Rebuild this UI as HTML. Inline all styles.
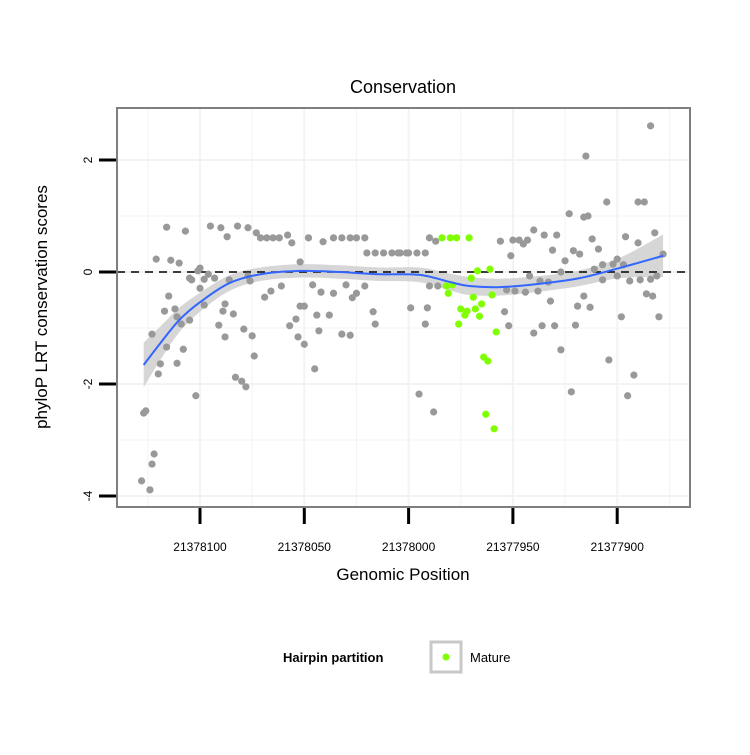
<!DOCTYPE html>
<html><head><meta charset="utf-8"><style>
body{margin:0;background:#fff;}
svg text{font-family:"Liberation Sans",sans-serif;}
</style></head><body>
<svg id="chart" width="750" height="750" xmlns="http://www.w3.org/2000/svg">
<rect x="0" y="0" width="750" height="750" fill="#fff"/>
<text x="403" y="93" font-size="18" text-anchor="middle">Conservation</text>
<g id="grid"></g>
<g id="band"></g>
<line x1="117" x2="690" y1="272" y2="272" stroke="#000" stroke-width="1.6" stroke-dasharray="8,6"/>
<g id="pts"></g>
<g id="fit"></g>
<rect x="117" y="108" width="573" height="399" fill="none" stroke="#7f7f7f" stroke-width="2"/>
<g id="axes"></g>
<text x="403" y="580" font-size="17" text-anchor="middle">Genomic Position</text>
<text x="0" y="0" font-size="17" text-anchor="middle" transform="translate(47,307) rotate(-90)">phyloP LRT conservation scores</text>
<g>
<text x="283" y="662" font-size="13" font-weight="bold">Hairpin partition</text>
<rect x="431" y="642" width="30" height="30" fill="#fff" stroke="#c8c8c8" stroke-width="3"/>
<circle cx="446" cy="657" r="3.5" fill="#7fff00"/>
<text x="470" y="662" font-size="13">Mature</text>
</g>
</svg>
<script>
const xTicks=[21378100,21378050,21378000,21377950,21377900];
const yTicks=[-4,-2,0,2];
const grayPos=[21378116,21378107,21378095,21378090,21378087,21378082,21378077,21378073,21378071,21378068,21378065,21378062,21378058,21378056,21378048,21378041,21378036,21378032,21378028,21378025,21378021,21378020,21378016,21378012,21378008,21378005,21378001,21378004,21378000,21377996,21377992,21378121,21378114,21378110,21378052,21378101,21378100,21378105,21378104,21378098,21378096,21378093,21378086,21378077,21378076,21378100,21378115,21378069,21378066,21378061,21378046,21378042,21378036,21378030,21378025,21378021,21378027,21378098,21378088,21378089,21378117,21378112,21378111,21378109,21378105,21378084,21378091,21378052,21378050,21378054,21378044,21378038,21378057,21378017,21378016,21378079,21378075,21378088,21378123,21378053,21378050,21378043,21378032,21378028,21378116,21378108,21378119,21378111,21378120,21378074,21378045,21378083,21378080,21378078,21378102,21378126,21378127,21378122,21378123,21378128,21378124,
21377990,21377987,21377956,21377950,21377947,21377943,21377945,21377940,21377935,21377929,21377923,21377916,21377914,21377915,21377905,21377890,21377887,21377884,21377912,21377909,21377931,21377921,21377918,21377925,21377951,21377896,21377890,21377882,21377878,21377927,21377942,21377937,21377933,21377911,21377907,21377902,21377900,21377897,21377900,21377907,21377894,21377889,21377884,21377881,21377990,21377986,21377953,21377949,21377944,21377938,21377916,21377932,21377919,21377913,21377886,21377883,21377999,21377991,21377954,21377992,21377952,21377940,21377936,21377930,21377920,21377898,21377880,21377927,21377904,21377892,21377995,21377922,21377895,21377988];
const grayScore=[0.80,0.73,0.82,0.79,0.63,0.82,0.79,0.70,0.61,0.61,0.61,0.61,0.66,0.52,0.61,0.54,0.61,0.61,0.61,0.61,0.61,0.34,0.34,0.34,0.34,0.34,0.34,0.34,0.34,0.34,0.34,0.23,0.21,0.16,0.18,0.02,0.07,-0.11,-0.14,-0.13,-0.04,-0.11,-0.14,-0.07,-0.16,-0.29,-0.43,-0.45,-0.34,-0.25,-0.23,-0.36,-0.38,-0.23,-0.38,-0.25,-0.46,-0.59,-0.57,-0.70,-0.70,-0.66,-0.80,-0.93,-0.86,-0.75,-0.95,-0.61,-0.61,-0.84,-0.77,-0.77,-0.96,-0.71,-0.93,-1.02,-1.14,-1.16,-1.11,-1.16,-1.29,-1.05,-1.11,-1.13,-1.34,-1.38,-1.64,-1.63,-1.82,-1.50,-1.73,-1.88,-1.95,-2.05,-2.21,-2.48,-2.52,-3.25,-3.43,-3.73,-3.89,
0.61,0.55,0.55,0.57,0.57,0.57,0.50,0.75,0.66,0.66,1.04,0.98,1.00,2.07,1.25,1.25,1.25,2.61,0.59,0.41,0.39,0.38,0.32,0.20,0.29,0.63,0.52,0.70,0.32,0.00,-0.07,-0.16,-0.18,0.05,0.13,0.14,0.23,0.13,-0.07,-0.14,-0.16,-0.14,-0.13,-0.07,-0.25,-0.25,-0.32,-0.34,-0.36,-0.34,-0.43,-0.52,-0.61,-0.63,-0.39,-0.43,-0.64,-0.64,-0.71,-0.93,-0.96,-1.09,-0.96,-0.96,-0.95,-0.80,-0.80,-1.39,-1.57,-1.84,-2.18,-2.14,-2.21,-2.50];
const greenPos=[21377984,21377980,21377977,21377971,21377967,21377961,21377970,21377982,21377979,21377981,21377969,21377965,21377960,21377975,21377973,21377972,21377968,21377966,21377976,21377958,21377964,21377962,21377963,21377959];
const greenScore=[0.61,0.61,0.61,0.61,0.02,0.05,-0.11,-0.25,-0.23,-0.38,-0.45,-0.57,-0.41,-0.66,-0.77,-0.70,-0.66,-0.79,-0.93,-1.07,-1.52,-1.59,-2.54,-2.80];
const fitPos=[21378127,21378119,21378110,21378100,21378086,21378071,21378052,21378033,21378014,21377995,21377980,21377971,21377956,21377937,21377918,21377899,21377878];
const fitScore=[-1.66,-1.27,-0.86,-0.54,-0.20,-0.04,0.02,0.00,-0.04,-0.05,-0.18,-0.25,-0.27,-0.21,-0.11,0.07,0.29];
const fitSE=[0.40,0.30,0.22,0.17,0.14,0.12,0.12,0.12,0.12,0.13,0.15,0.16,0.15,0.14,0.14,0.18,0.38];

const NS='http://www.w3.org/2000/svg';
function X(p){return 200+(21378100-p)*2.086;}
function Y(s){return 272-s*56;}
function mk(tag,parent,attrs){const e=document.createElementNS(NS,tag);for(const k in attrs)e.setAttribute(k,attrs[k]);parent.appendChild(e);return e;}
function smooth(P,move){let d=move?'M'+P[0][0]+','+P[0][1]:'L'+P[0][0]+','+P[0][1];
 for(let i=0;i<P.length-1;i++){const p0=P[Math.max(0,i-1)],p1=P[i],p2=P[i+1],p3=P[Math.min(P.length-1,i+2)];
  const c1=[p1[0]+(p2[0]-p0[0])/6,p1[1]+(p2[1]-p0[1])/6],c2=[p2[0]-(p3[0]-p1[0])/6,p2[1]-(p3[1]-p1[1])/6];
  d+='C'+c1[0]+','+c1[1]+' '+c2[0]+','+c2[1]+' '+p2[0]+','+p2[1];}
 return d;}
const grid=document.getElementById('grid');
[-5,-4,-3,-2,-1,0,1,2,3].forEach(v=>{const y=Y(v);if(y<108||y>507)return;
 const l=mk('line',grid,{x1:117,x2:690,y1:y,y2:y,stroke:'#f3f3f3','stroke-width':Number.isInteger(v/2)?2:1});
 
 });
[21378125,21378100,21378075,21378050,21378025,21378000,21377975,21377950,21377925,21377900,21377875].forEach(v=>{const x=X(v);if(x<117||x>690)return;
 const l=mk('line',grid,{x1:x,x2:x,y1:108,y2:507,stroke:'#f3f3f3','stroke-width':(v%50===0)?2:1});
 
 });
const upper=fitPos.map((p,i)=>[X(p),Y(fitScore[i]+fitSE[i])]);
const lower=fitPos.map((p,i)=>[X(p),Y(fitScore[i]-fitSE[i])]).reverse();
const band=mk('path',document.getElementById('band'),{d:smooth(upper,true)+smooth(lower,false)+'Z',fill:'#d6d6d6'});


const pts=document.getElementById('pts');
grayPos.forEach((p,i)=>{const c=mk('circle',pts,{cx:X(p),cy:Y(grayScore[i]),r:3.6,fill:'#999999'});
 
 });
greenPos.forEach((p,i)=>{const c=mk('circle',pts,{cx:X(p),cy:Y(greenScore[i]),r:3.6,fill:'#7fff00'});
 
 });
const fitPts=fitPos.map((p,i)=>[X(p),Y(fitScore[i])]);
const fl=mk('path',document.getElementById('fit'),{d:smooth(fitPts,true),fill:'none',stroke:'#3366ff','stroke-width':2});


const axes=document.getElementById('axes');
xTicks.forEach(v=>{const x=X(v);
 const t=mk('line',axes,{x1:x,x2:x,y1:508,y2:524,stroke:'#000','stroke-width':3});
 
 
 const tx=mk('text',axes,{x:x,y:551,'font-size':12,'text-anchor':'middle'});tx.textContent=String(v);
 
 });
yTicks.forEach(v=>{const y=Y(v);
 const t=mk('line',axes,{x1:99,x2:116,y1:y,y2:y,stroke:'#000','stroke-width':3});
 
 
 const tx=mk('text',axes,{x:0,y:0,'font-size':12,'text-anchor':'middle',transform:'translate(92,'+y+') rotate(-90)'});tx.textContent=String(v);
 
 });
</script>
</body></html>
